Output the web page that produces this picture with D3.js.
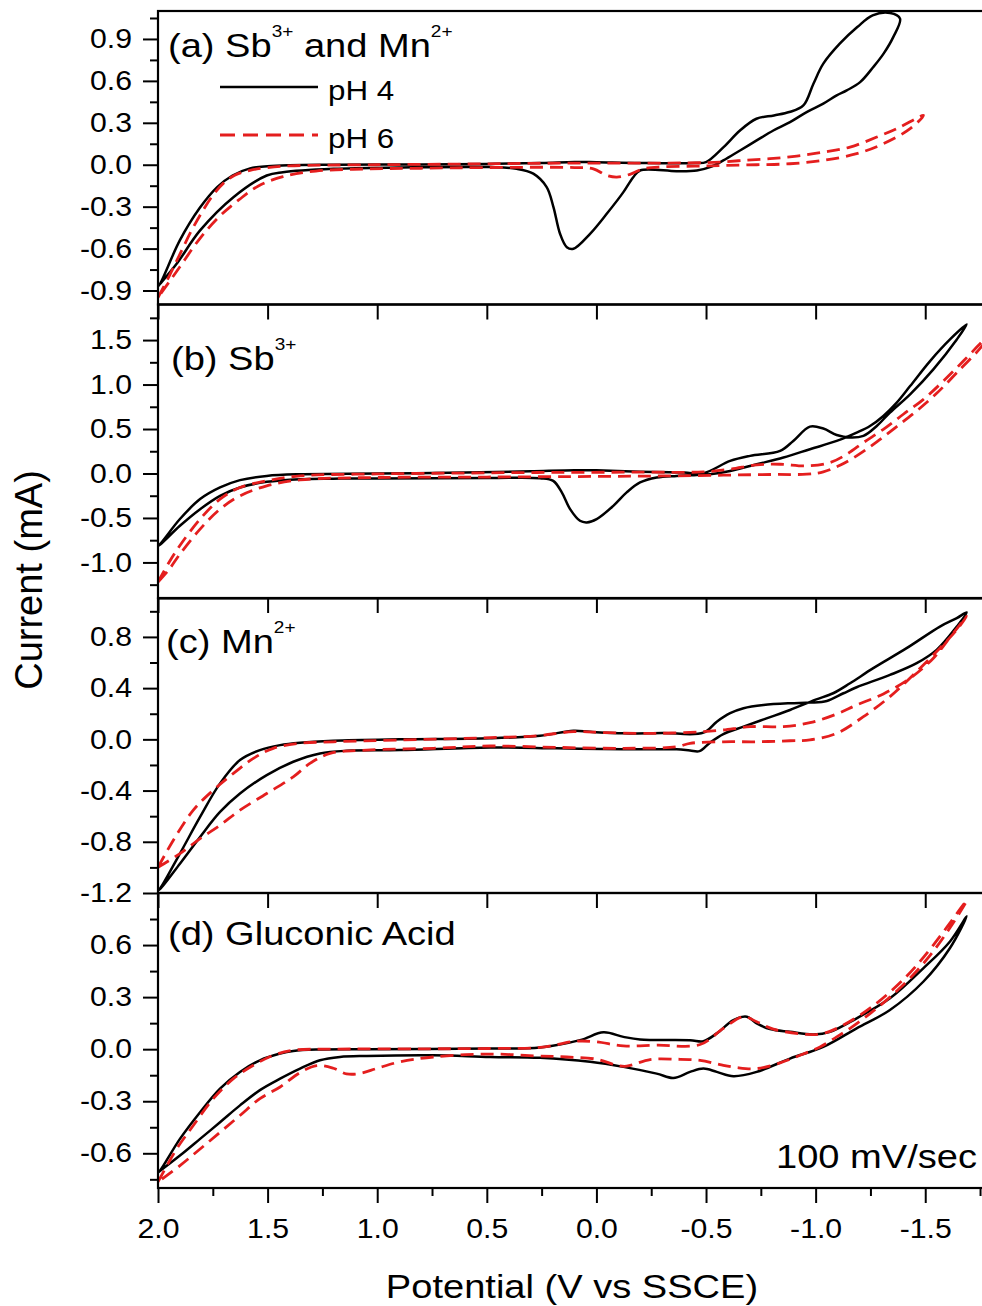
<!DOCTYPE html>
<html>
<head>
<meta charset="utf-8">
<script src="https://cdn.jsdelivr.net/npm/d3@7"></script>
<style>
body { margin: 0; background: #fff; }
text { font-family: "Liberation Sans", Arial, sans-serif; white-space: pre; }
</style>
</head>
<body>
<svg id="chart" width="982" height="1306"></svg>
<script>
// potential axis (V vs SSCE), reversed
const xDomain = [2.0, -1.8]
const xMajor = [2.0, 1.5, 1.0, 0.5, 0.0, -0.5, -1.0, -1.5]
const xMinor = [1.75, 1.25, 0.75, 0.25, -0.25, -0.75, -1.25, -1.75]

// current axes (mA), one per panel
const yDomains = [[-1.0, 1.1], [-1.4, 1.9], [-1.2, 1.1], [-0.8, 0.9]]
const yMajor = [
    [-0.9, -0.6, -0.3, 0.0, 0.3, 0.6, 0.9],
    [-1.0, -0.5, 0.0, 0.5, 1.0, 1.5],
    [-1.2, -0.8, -0.4, 0.0, 0.4, 0.8],
    [-0.6, -0.3, 0.0, 0.3, 0.6]
]
const yMinor = [
    [-0.75, -0.45, -0.15, 0.15, 0.45, 0.75, 1.05],
    [-1.25, -0.75, -0.25, 0.25, 0.75, 1.25, 1.75],
    [-1.0, -0.6, -0.2, 0.2, 0.6, 1.0],
    [-0.75, -0.45, -0.15, 0.15, 0.45, 0.75]
]

// panel titles: [text, superscript?]
const panelLabels = [
    [['(a) Sb', false], ['3+', true], [' and Mn', false], ['2+', true]],
    [['(b) Sb', false], ['3+', true]],
    [['(c) Mn', false], ['2+', true]],
    [['(d) Gluconic Acid', false]]
]
const seriesNames = ['pH 4', 'pH 6']

// cyclic voltammograms [E (V), I (mA)], each a closed loop
const aPH4 = [[2.0, -0.87], [1.99, -0.85], [1.9, -0.54], [1.81, -0.31], [1.73, -0.16], [1.66, -0.077], [1.58, -0.026],
    [1.5, -0.01], [1.4, -0.003], [1.2, 0.0], [0.8, 0.002], [0.5, 0.006], [0.25, 0.012], [0.1, 0.02], [0.0, 0.018],
    [-0.2, 0.012], [-0.45, 0.012], [-0.5, 0.019], [-0.58, 0.126], [-0.655, 0.245], [-0.73, 0.329], [-0.81, 0.353],
    [-0.88, 0.377], [-0.944, 0.424], [-0.99, 0.58], [-1.035, 0.723], [-1.11, 0.866], [-1.19, 0.985], [-1.26, 1.069],
    [-1.34, 1.085], [-1.385, 1.045], [-1.354, 0.913], [-1.31, 0.795], [-1.263, 0.699], [-1.203, 0.591],
    [-1.142, 0.532], [-1.096, 0.496], [-1.035, 0.437], [-0.959, 0.377], [-0.883, 0.305], [-0.807, 0.245],
    [-0.731, 0.174], [-0.655, 0.102], [-0.579, 0.031], [-0.518, -0.017], [-0.458, -0.041], [-0.366, -0.046],
    [-0.199, -0.041], [-0.168, -0.089], [-0.123, -0.196], [-0.047, -0.351], [0.029, -0.494], [0.105, -0.601],
    [0.135, -0.59], [0.166, -0.494], [0.196, -0.303], [0.227, -0.16], [0.288, -0.064], [0.364, -0.029],
    [0.485, -0.017], [0.9, -0.02], [1.2, -0.029], [1.43, -0.053], [1.504, -0.077], [1.656, -0.232],
    [1.808, -0.47], [1.915, -0.709], [1.99, -0.852], [2.0, -0.87]]
const aPH6 = [[2.0, -0.95], [1.95, -0.8], [1.9, -0.64], [1.85, -0.48], [1.8, -0.34], [1.75, -0.22], [1.7, -0.13],
    [1.65, -0.075], [1.58, -0.04], [1.5, -0.02], [1.4, -0.008], [1.0, 0.0], [0.6, 0.005], [0.3, 0.01], [0.0, 0.012],
    [-0.3, 0.012], [-0.5, 0.015], [-0.564, 0.019], [-0.67, 0.031], [-0.792, 0.043], [-0.914, 0.062],
    [-1.035, 0.09], [-1.157, 0.126], [-1.279, 0.198], [-1.37, 0.258], [-1.492, 0.353], [-1.431, 0.258],
    [-1.309, 0.15], [-1.187, 0.079], [-1.035, 0.031], [-0.883, 0.007], [-0.731, 0.0], [-0.579, -0.005],
    [-0.45, -0.01], [-0.3, -0.015], [-0.214, -0.029], [-0.153, -0.069], [-0.093, -0.089], [-0.047, -0.077],
    [0.014, -0.029], [0.1, -0.02], [0.5, -0.02], [0.8, -0.025], [1.05, -0.03], [1.28, -0.045], [1.43, -0.085],
    [1.54, -0.15], [1.63, -0.25], [1.72, -0.37], [1.81, -0.53], [1.9, -0.73], [1.95, -0.84], [2.0, -0.95]]

const bPH4 = [[2.0, -0.81], [1.991, -0.794], [1.9, -0.512], [1.808, -0.288], [1.717, -0.157], [1.626, -0.075],
    [1.504, -0.027], [1.352, -0.008], [1.0, 0.0], [0.6, 0.01], [0.3, 0.025], [0.1, 0.037], [0.0, 0.035],
    [-0.2, 0.02], [-0.4, 0.01], [-0.488, 0.003], [-0.61, 0.141], [-0.701, 0.198], [-0.838, 0.254], [-0.898, 0.366],
    [-0.974, 0.527], [-1.035, 0.505], [-1.096, 0.433], [-1.157, 0.404], [-1.218, 0.422], [-1.279, 0.534],
    [-1.339, 0.685], [-1.431, 0.89], [-1.537, 1.171], [-1.644, 1.507], [-1.689, 1.676], [-1.613, 1.507],
    [-1.522, 1.264], [-1.431, 0.983], [-1.37, 0.797], [-1.309, 0.647], [-1.248, 0.534], [-1.187, 0.46],
    [-1.096, 0.366], [-0.974, 0.273], [-0.853, 0.18], [-0.731, 0.104], [-0.61, 0.029], [-0.518, -0.008],
    [-0.458, -0.016], [-0.366, -0.027], [-0.275, -0.045], [-0.199, -0.101], [-0.138, -0.213], [-0.077, -0.364],
    [-0.001, -0.513], [0.044, -0.55], [0.075, -0.532], [0.12, -0.401], [0.158, -0.213], [0.197, -0.083],
    [0.257, -0.053], [0.485, -0.05], [1.0, -0.056], [1.2, -0.058], [1.352, -0.064], [1.504, -0.094],
    [1.626, -0.157], [1.717, -0.251], [1.808, -0.401], [1.9, -0.588], [1.991, -0.8], [2.0, -0.81]]
const bPH6 = [[2.0, -1.22], [1.95, -1.0], [1.9, -0.81], [1.808, -0.513], [1.717, -0.288], [1.626, -0.157],
    [1.504, -0.083], [1.352, -0.027], [1.0, -0.005], [0.6, 0.005], [0.2, 0.012], [-0.2, 0.015], [-0.488, 0.018],
    [-0.61, 0.048], [-0.731, 0.097], [-0.838, 0.104], [-0.959, 0.085], [-1.066, 0.123], [-1.142, 0.217],
    [-1.218, 0.348], [-1.309, 0.497], [-1.4, 0.666], [-1.492, 0.834], [-1.583, 1.04], [-1.674, 1.264],
    [-1.759, 1.481], [-1.8, 1.58], [-1.759, 1.432], [-1.644, 1.133], [-1.552, 0.901], [-1.461, 0.703],
    [-1.37, 0.527], [-1.279, 0.355], [-1.187, 0.198], [-1.111, 0.093], [-1.035, 0.018], [-0.959, -0.008],
    [-0.807, -0.011], [-0.579, -0.019], [-0.3, -0.028], [0.0, -0.033], [0.5, -0.04], [1.0, -0.045],
    [1.352, -0.072], [1.504, -0.139], [1.626, -0.251], [1.717, -0.401], [1.808, -0.625], [1.9, -0.906],
    [1.95, -1.08], [2.0, -1.22]]

const cPH4 = [[2.0, -1.18], [1.991, -1.166], [1.9, -0.892], [1.808, -0.606], [1.717, -0.344], [1.626, -0.162],
    [1.535, -0.084], [1.443, -0.045], [1.352, -0.026], [1.2, -0.011], [0.896, 0.0], [0.485, 0.008], [0.257, 0.028],
    [0.105, 0.067], [0.029, 0.059], [-0.123, 0.047], [-0.3, 0.05], [-0.488, 0.052], [-0.549, 0.138],
    [-0.61, 0.204], [-0.671, 0.243], [-0.762, 0.268], [-0.883, 0.282], [-0.974, 0.287], [-1.051, 0.3],
    [-1.127, 0.36], [-1.187, 0.407], [-1.339, 0.503], [-1.461, 0.595], [-1.552, 0.699], [-1.644, 0.881],
    [-1.689, 0.991], [-1.644, 0.947], [-1.567, 0.881], [-1.415, 0.712], [-1.263, 0.556], [-1.157, 0.438],
    [-1.08, 0.36], [-1.0, 0.31], [-0.883, 0.229], [-0.776, 0.164], [-0.671, 0.099], [-0.579, 0.041],
    [-0.518, -0.026], [-0.47, -0.092], [-0.427, -0.087], [-0.366, -0.078], [-0.123, -0.078], [0.181, -0.07],
    [0.485, -0.063], [0.896, -0.084], [1.139, -0.089], [1.261, -0.11], [1.383, -0.175], [1.504, -0.279],
    [1.626, -0.423], [1.717, -0.567], [1.808, -0.762], [1.9, -0.971], [1.991, -1.17], [2.0, -1.18]]
const cPH6 = [[2.0, -1.0], [1.93, -0.788], [1.839, -0.553], [1.748, -0.397], [1.656, -0.266], [1.565, -0.149],
    [1.474, -0.07], [1.352, -0.031], [1.2, -0.019], [0.9, -0.005], [0.485, 0.013], [0.272, 0.028], [0.105, 0.06],
    [-0.047, 0.052], [-0.275, 0.047], [-0.488, 0.06], [-0.579, 0.073], [-0.701, 0.099], [-0.853, 0.099],
    [-0.974, 0.13], [-1.096, 0.198], [-1.187, 0.268], [-1.309, 0.355], [-1.431, 0.477], [-1.537, 0.634],
    [-1.628, 0.83], [-1.689, 0.96], [-1.644, 0.856], [-1.552, 0.686], [-1.445, 0.503], [-1.339, 0.334],
    [-1.218, 0.177], [-1.096, 0.047], [-0.974, -0.005], [-0.883, -0.011], [-0.731, -0.019], [-0.579, -0.019],
    [-0.427, -0.031], [-0.366, -0.058], [-0.123, -0.07], [0.181, -0.063], [0.485, -0.052], [0.744, -0.07],
    [1.048, -0.084], [1.215, -0.11], [1.307, -0.188], [1.383, -0.293], [1.504, -0.423], [1.626, -0.553],
    [1.717, -0.671], [1.808, -0.775], [1.9, -0.892], [2.0, -1.0]]

const dPH4 = [[2.0, -0.71], [1.991, -0.7], [1.9, -0.517], [1.808, -0.363], [1.717, -0.227], [1.626, -0.131],
    [1.535, -0.064], [1.443, -0.025], [1.383, -0.01], [1.276, -0.002], [1.048, 0.0], [0.485, 0.004], [0.257, 0.01],
    [0.075, 0.052], [-0.032, 0.097], [-0.123, 0.071], [-0.199, 0.056], [-0.427, 0.052], [-0.488, 0.046],
    [-0.549, 0.091], [-0.625, 0.168], [-0.686, 0.187], [-0.731, 0.149], [-0.792, 0.116], [-0.883, 0.1],
    [-0.99, 0.085], [-1.066, 0.1], [-1.187, 0.178], [-1.339, 0.293], [-1.492, 0.467], [-1.613, 0.621],
    [-1.689, 0.766], [-1.613, 0.583], [-1.492, 0.39], [-1.339, 0.226], [-1.187, 0.12], [-1.035, 0.013],
    [-0.883, -0.054], [-0.731, -0.131], [-0.625, -0.156], [-0.549, -0.131], [-0.488, -0.112], [-0.427, -0.131],
    [-0.351, -0.166], [-0.275, -0.141], [-0.123, -0.102], [0.029, -0.073], [0.257, -0.05], [0.485, -0.045],
    [0.744, -0.035], [1.048, -0.039], [1.17, -0.045], [1.261, -0.064], [1.352, -0.112], [1.443, -0.17],
    [1.535, -0.236], [1.626, -0.324], [1.717, -0.421], [1.808, -0.517], [1.9, -0.613], [2.0, -0.71]]
const dPH6 = [[2.0, -0.765], [1.915, -0.575], [1.839, -0.44], [1.748, -0.285], [1.656, -0.17], [1.565, -0.093],
    [1.474, -0.035], [1.383, -0.006], [1.2, 0.0], [0.8, 0.002], [0.485, 0.004], [0.257, 0.01], [0.09, 0.046],
    [-0.001, 0.042], [-0.123, 0.019], [-0.275, 0.023], [-0.473, 0.027], [-0.579, 0.12], [-0.671, 0.187],
    [-0.731, 0.158], [-0.807, 0.116], [-0.959, 0.085], [-1.035, 0.091], [-1.127, 0.139], [-1.263, 0.25],
    [-1.415, 0.42], [-1.537, 0.6], [-1.689, 0.856], [-1.613, 0.7], [-1.522, 0.54], [-1.431, 0.41],
    [-1.339, 0.3], [-1.248, 0.205], [-1.157, 0.12], [-1.096, 0.071], [-1.02, 0.013], [-0.929, -0.035],
    [-0.838, -0.079], [-0.731, -0.112], [-0.64, -0.106], [-0.564, -0.089], [-0.473, -0.064], [-0.366, -0.058],
    [-0.245, -0.06], [-0.138, -0.098], [-0.093, -0.093], [-0.001, -0.058], [0.135, -0.045], [0.272, -0.039],
    [0.485, -0.028], [0.744, -0.045], [0.896, -0.073], [1.0, -0.11], [1.078, -0.14], [1.14, -0.142],
    [1.2, -0.11], [1.276, -0.095], [1.352, -0.135], [1.443, -0.218], [1.535, -0.285], [1.626, -0.382],
    [1.717, -0.479], [1.808, -0.575], [1.9, -0.671], [2.0, -0.765]]

const curves = [[aPH4, aPH6], [bPH4, bPH6], [cPH4, cPH6], [dPH4, dPH6]]

function main() {
    let svg = d3.select('#chart'),
        left = 158, right = 991,
        tops = [11, 304.5, 598.5, 893],
        bottoms = [304.5, 598, 893, 1188],
        stretch = 'scale(1.12,1)',
        font = '"Liberation Sans", Arial, sans-serif',
        red = '#e41e1e'

    let x = d3.scaleLinear().domain(xDomain).range([left, right])
    let fmt = d => d.toFixed(1)
    let defs = svg.append('defs')

    curves.forEach((pair, i) => {
        let y = d3.scaleLinear().domain(yDomains[i]).range([bottoms[i], tops[i]])
        let g = svg.append('g')

        defs.append('clipPath').attr('id', 'clip' + i)
            .append('rect')
            .attr('x', left).attr('y', tops[i])
            .attr('width', right - left).attr('height', bottoms[i] - tops[i])

        let line = d3.line()
            .x(d => x(d[0]))
            .y(d => y(d[1]))
            .curve(d3.curveCatmullRom.alpha(0.5))

        let plot = g.append('g').attr('clip-path', 'url(#clip' + i + ')')
        plot.append('path')
            .attr('d', line(pair[0]))
            .attr('fill', 'none')
            .attr('stroke', '#000')
            .attr('stroke-width', 2.5)
            .attr('stroke-linejoin', 'round')
        plot.append('path')
            .attr('d', line(pair[1]))
            .attr('fill', 'none')
            .attr('stroke', red)
            .attr('stroke-width', 2.8)
            .attr('stroke-dasharray', '13,7')

        // y axis: major + minor, ticks outward
        let yAxis = g.append('g')
            .attr('transform', 'translate(' + left + ',0)')
            .call(d3.axisLeft(y).tickValues(yMajor[i]).tickSize(15).tickFormat(fmt))
        yAxis.select('.domain').remove()
        yAxis.attr('font-size', 27).attr('font-family', font)
        yAxis.selectAll('line').attr('stroke-width', 2)
        yAxis.selectAll('text')
            .attr('x', 0).attr('dy', '0.32em')
            .attr('transform', 'translate(-26,0) ' + stretch)

        let yMinorAxis = g.append('g')
            .attr('transform', 'translate(' + left + ',0)')
            .call(d3.axisLeft(y).tickValues(yMinor[i]).tickSize(8).tickFormat(''))
        yMinorAxis.select('.domain').remove()
        yMinorAxis.selectAll('line').attr('stroke-width', 2)

        // x axis on the bottom of each panel
        let last = i === curves.length - 1
        let xAxis = g.append('g')
            .attr('transform', 'translate(0,' + bottoms[i] + ')')
            .call(d3.axisBottom(x).tickValues(xMajor).tickSize(15).tickFormat(last ? fmt : ''))
        xAxis.select('.domain').remove()
        xAxis.attr('font-size', 27).attr('font-family', font)
        xAxis.selectAll('line').attr('stroke-width', 2)
        if (last) {
            xAxis.selectAll('text')
                .attr('y', 0).attr('dy', 0)
                .attr('transform', 'translate(0,50) ' + stretch)
            let xMinorAxis = g.append('g')
                .attr('transform', 'translate(0,' + bottoms[i] + ')')
                .call(d3.axisBottom(x).tickValues(xMinor).tickSize(8).tickFormat(''))
            xMinorAxis.select('.domain').remove()
            xMinorAxis.selectAll('line').attr('stroke-width', 2)
        }

        g.append('rect')
            .attr('x', left).attr('y', tops[i])
            .attr('width', right - left).attr('height', bottoms[i] - tops[i])
            .attr('fill', 'none')
            .attr('stroke', '#000')
            .attr('stroke-width', 2.2)

        // panel title with superscripts
        let labelPos = [[168, 57], [171, 370], [166, 653], [168, 945]]
        let t = g.append('text')
            .attr('transform', 'translate(' + labelPos[i][0] + ',' + labelPos[i][1] + ') ' + stretch)
            .attr('font-size', 34)
        let raised = false
        panelLabels[i].forEach(seg => {
            let dy = seg[1] ? (raised ? 0 : -20) : (raised ? 20 : 0)
            t.append('tspan')
                .attr('dy', dy)
                .attr('font-size', seg[1] ? 17 : 34)
                .text(seg[0])
            raised = seg[1]
        })
    })

    // legend in panel (a)
    let legend = svg.append('g')
    let legendY = [87, 135]
    seriesNames.forEach((name, k) => {
        legend.append('line')
            .attr('x1', 220).attr('x2', 318)
            .attr('y1', legendY[k]).attr('y2', legendY[k])
            .attr('stroke', k === 0 ? '#000' : red)
            .attr('stroke-width', k === 0 ? 2.5 : 2.8)
            .attr('stroke-dasharray', k === 0 ? null : '15,8')
        legend.append('text')
            .attr('transform', 'translate(328,' + (legendY[k] + 13) + ') ' + stretch)
            .attr('font-size', 28)
            .text(name)
    })

    svg.append('text')
        .attr('transform', 'translate(977,1168) ' + stretch)
        .attr('text-anchor', 'end')
        .attr('font-size', 34)
        .text('100 mV/sec')

    svg.append('text')
        .attr('transform', 'translate(42,580) rotate(-90)')
        .attr('text-anchor', 'middle')
        .attr('font-size', 38)
        .text('Current (mA)')

    svg.append('text')
        .attr('transform', 'translate(572,1298) ' + stretch)
        .attr('text-anchor', 'middle')
        .attr('font-size', 34)
        .text('Potential (V vs SSCE)')
}

main()
</script>
</body>
</html>
